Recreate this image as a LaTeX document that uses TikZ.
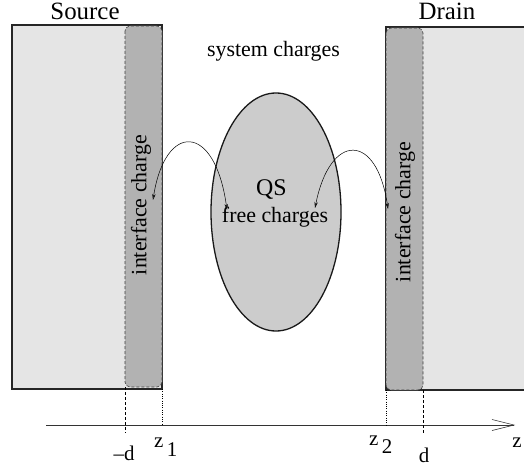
\documentclass[tikz,border=0pt]{standalone}
\usepackage{fontspec}
\setmainfont{Liberation Serif}
\usetikzlibrary{arrows.meta,shapes.geometric}
\tikzset{
  region/.style={fill=black!10,draw=none},
  regionedge/.style={draw=black!85,line width=1.3bp},
  iface/.style={fill=black!30,draw=black!75,line width=0.6bp,dash pattern=on 3bp off 2bp,rounded corners=5bp},
  qs/.style={ellipse,fill=black!20,draw=black!90,line width=1.3bp,minimum width=130bp,minimum height=238bp,inner sep=0pt},
  hop/.style={line width=0.5bp,{Stealth[length=6bp,width=3.5bp,open]}-{Stealth[length=6bp,width=3.5bp,open]}},
  guide/.style={line width=0.5bp,dash pattern=on 3bp off 2bp},
  dotguide/.style={line width=0.5bp,dash pattern=on 0.8bp off 1.5bp},
  lbl/.style={inner sep=0pt,anchor=base},
}
\begin{document}
\begin{tikzpicture}[x=1bp,y=-1bp]
\useasboundingbox (0,0) rectangle (524,470);
% source
\fill[region] (12,25) rectangle (162,389);
\draw[regionedge] (12,25) rectangle (162,389);
% drain
\fill[region] (386,27) rectangle (524,390);
\draw[regionedge] (524,27) -- (386,27) -- (386,390) -- (524,390);
% interface charges
\draw[iface] (125,26) rectangle (162,387);
\draw[iface] (386,28) rectangle (423,390);
\node[rotate=90,font=\fontsize{22}{24}\selectfont,inner sep=0pt] (ifl) at (141,205) {interface charge};
\node[rotate=90,font=\fontsize{22}{24}\selectfont,inner sep=0pt] (ifr) at (405,212) {interface charge};
% QS
\node[qs] (qs) at (276,212) {};
\node[lbl,font=\fontsize{24}{26}\selectfont] (qst) at (271.5,196) {QS};
\node[lbl,font=\fontsize{22}{24}\selectfont] (fc) at (275,223) {free charges};
\node[lbl,font=\fontsize{22}{24}\selectfont] (sc) at (273.5,57) {system charges};
\node[lbl,font=\fontsize{25}{27}\selectfont] (src) at (85,20) {Source};
\node[lbl,font=\fontsize{25}{27}\selectfont] (drn) at (447,20) {Drain};
% hopping arrows
\coordinate (la) at (153,200);
\coordinate (lb) at (227,210);
\coordinate (ra) at (315,208);
\coordinate (rb) at (388,209);
\draw[hop] (la) .. controls (165,122) and (215,122) .. (lb);
\draw[hop] (ra) .. controls (330,132) and (377,132) .. (rb);
% axis
\coordinate (ax0) at (46,425);
\coordinate (ax1) at (514,425);
\draw[line width=0.6bp,black!80] (ax0) -- (ax1);
\draw[line width=0.6bp,black!80] (492,419.5) -- (ax1) -- (492,430.5);
% guides
\coordinate (mdtop) at (125,387);
\coordinate (mdbot) at (125,433);
\coordinate (z1top) at (162,389);
\coordinate (z1bot) at (162,425);
\coordinate (z2top) at (386,390);
\coordinate (z2bot) at (386,425);
\coordinate (dtop) at (423,390);
\coordinate (dbot) at (423,434);
\draw[guide] (mdtop) -- (mdbot);
\draw[guide] (dtop) -- (dbot);
\draw[dotguide] (z1top) -- (z1bot);
\draw[dotguide] (z2top) -- (z2bot);
% axis labels
\node[lbl,font=\fontsize{21}{22}\selectfont] (lmd) at (124,460) {\textendash d};
\node[lbl,font=\fontsize{21}{22}\selectfont] (ld) at (424,462) {d};
\node[lbl,font=\fontsize{21}{22}\selectfont,anchor=base west] (lz1) at (154,447) {z\raisebox{-9bp}{\,1}};
\node[lbl,font=\fontsize{21}{22}\selectfont,anchor=base west] (lz2) at (369,445) {z\raisebox{-8bp}{\,2}};
\node[lbl,font=\fontsize{21}{22}\selectfont] (lz) at (517,447) {z};
\end{tikzpicture}
\end{document}
